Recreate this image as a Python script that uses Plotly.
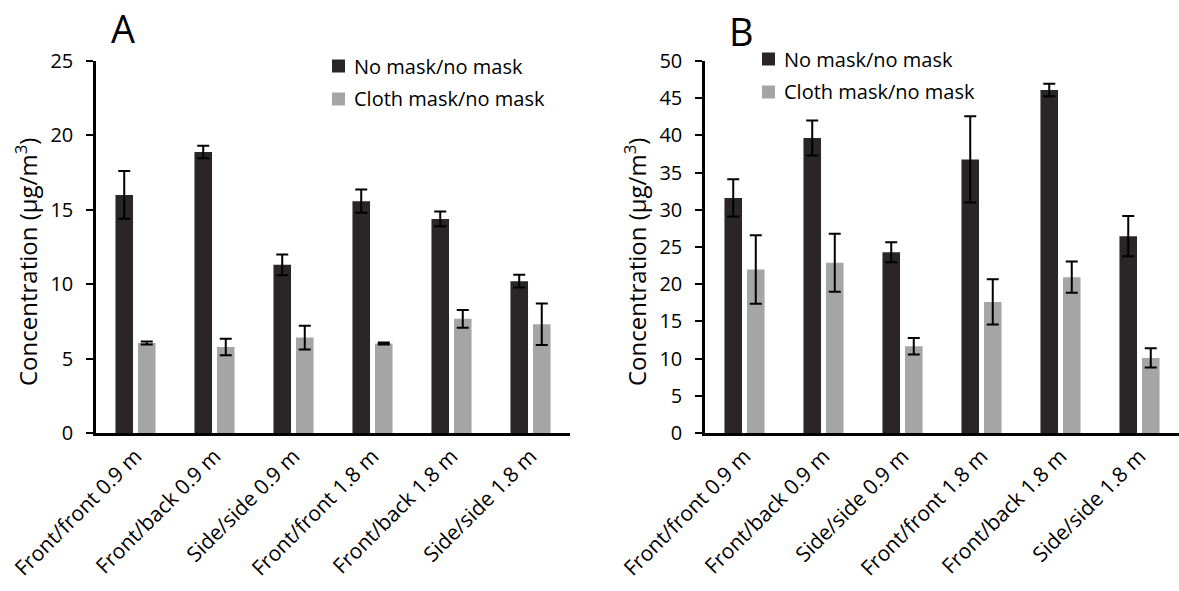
import plotly.graph_objects as go

# Sampling positions (shared by both panels)
categories = [
    "Front/front 0.9 m",
    "Front/back 0.9 m",
    "Side/side 0.9 m",
    "Front/front 1.8 m",
    "Front/back 1.8 m",
    "Side/side 1.8 m",
]
series_names = ["No mask/no mask", "Cloth mask/no mask"]

# Panel A: concentrations (µg/m³) and error bars
a_no_mask = [16.0, 18.88, 11.3, 15.58, 14.39, 10.2]
a_no_mask_err = [1.6, 0.42, 0.7, 0.78, 0.5, 0.43]
a_cloth = [6.05, 5.78, 6.41, 6.01, 7.67, 7.31]
a_cloth_err = [0.1, 0.55, 0.8, 0.07, 0.6, 1.4]

# Panel B: concentrations (µg/m³) and error bars
b_no_mask = [31.6, 39.64, 24.3, 36.77, 46.1, 26.46]
b_no_mask_err = [2.5, 2.35, 1.35, 5.8, 0.83, 2.7]
b_cloth = [21.97, 22.87, 11.66, 17.62, 20.94, 10.09]
b_cloth_err = [4.6, 3.9, 1.1, 3.05, 2.1, 1.3]

W, H = 1179, 591
DARK = "#2a2526"
LIGHT = "#a5a5a5"
FONT = "Open Sans"


def px_x(x):
    return x / W


def px_y(y):
    return 1 - y / H


def err(arr):
    return dict(type="data", array=arr, visible=True, color="black", thickness=2, width=6)


fig = go.Figure()
panels = [
    ("x", "y", a_no_mask, a_no_mask_err, a_cloth, a_cloth_err),
    ("x2", "y2", b_no_mask, b_no_mask_err, b_cloth, b_cloth_err),
]
for xa, ya, dark, dark_e, light, light_e in panels:
    fig.add_trace(go.Bar(x=categories, y=dark, error_y=err(dark_e), name=series_names[0],
                         marker=dict(color=DARK, line=dict(width=0)), xaxis=xa, yaxis=ya,
                         showlegend=False))
    fig.add_trace(go.Bar(x=categories, y=light, error_y=err(light_e), name=series_names[1],
                         marker=dict(color=LIGHT, line=dict(width=0)), xaxis=xa, yaxis=ya,
                         showlegend=False))

y_dom = [px_y(433), px_y(61)]
xaxis_style = dict(showline=True, linecolor="black", linewidth=2.5, showgrid=False,
                   zeroline=False, ticks="", tickangle=-45, automargin=False,
                   tickfont=dict(family=FONT, size=21, color="black"))
yaxis_style = dict(showline=True, linecolor="black", linewidth=2.5, showgrid=False,
                   zeroline=False, ticks="outside", ticklen=7, tickwidth=2, tickcolor="black",
                   automargin=False, ticklabelstandoff=9,
                   tickfont=dict(family=FONT, size=20, color="black"), dtick=5)

fig.update_layout(
    width=W, height=H,
    margin=dict(l=0, r=0, t=0, b=0, autoexpand=False),
    paper_bgcolor="white", plot_bgcolor="white",
    barmode="group", bargap=0.43, bargroupgap=0.22,
    showlegend=False,
    xaxis=dict(domain=[px_x(96), px_x(570)], anchor="y", **xaxis_style),
    yaxis=dict(domain=y_dom, anchor="x", range=[0, 25], **yaxis_style),
    xaxis2=dict(domain=[px_x(705), 1.0], anchor="y2", **xaxis_style),
    yaxis2=dict(domain=y_dom, anchor="x2", range=[0, 50], **yaxis_style),
)

annotations = []
shapes = []

# Panel letters
for label, cx, cy in [("A", 123, 28), ("B", 741, 31)]:
    annotations.append(dict(text=label, x=px_x(cx), y=px_y(cy), xref="paper", yref="paper",
                            xanchor="center", yanchor="middle", showarrow=False,
                            font=dict(family=FONT, size=38, color="black")))

# Y-axis titles
for cx in (26, 635):
    annotations.append(dict(text="Concentration (μg/m<sup>3</sup>)", x=px_x(cx), y=px_y(262),
                            xref="paper", yref="paper", xanchor="center", yanchor="middle",
                            textangle=-90, showarrow=False,
                            font=dict(family=FONT, size=24, color="black")))

# Legends: colour square + label per row
for sq_x, row_ys in [(332, (66, 99)), (762, (59, 92))]:
    for name, color, ry in zip(series_names, (DARK, LIGHT), row_ys):
        shapes.append(dict(type="rect", xref="paper", yref="paper",
                           x0=px_x(sq_x), x1=px_x(sq_x + 13),
                           y0=px_y(ry - 6.5), y1=px_y(ry + 6.5),
                           fillcolor=color, line=dict(width=0)))
        annotations.append(dict(text=name, x=px_x(sq_x + 20), y=px_y(ry), xref="paper",
                                yref="paper", xanchor="left", yanchor="middle",
                                showarrow=False,
                                font=dict(family=FONT, size=20, color="black")))

fig.update_layout(annotations=annotations, shapes=shapes)
fig.write_html("out.html")
